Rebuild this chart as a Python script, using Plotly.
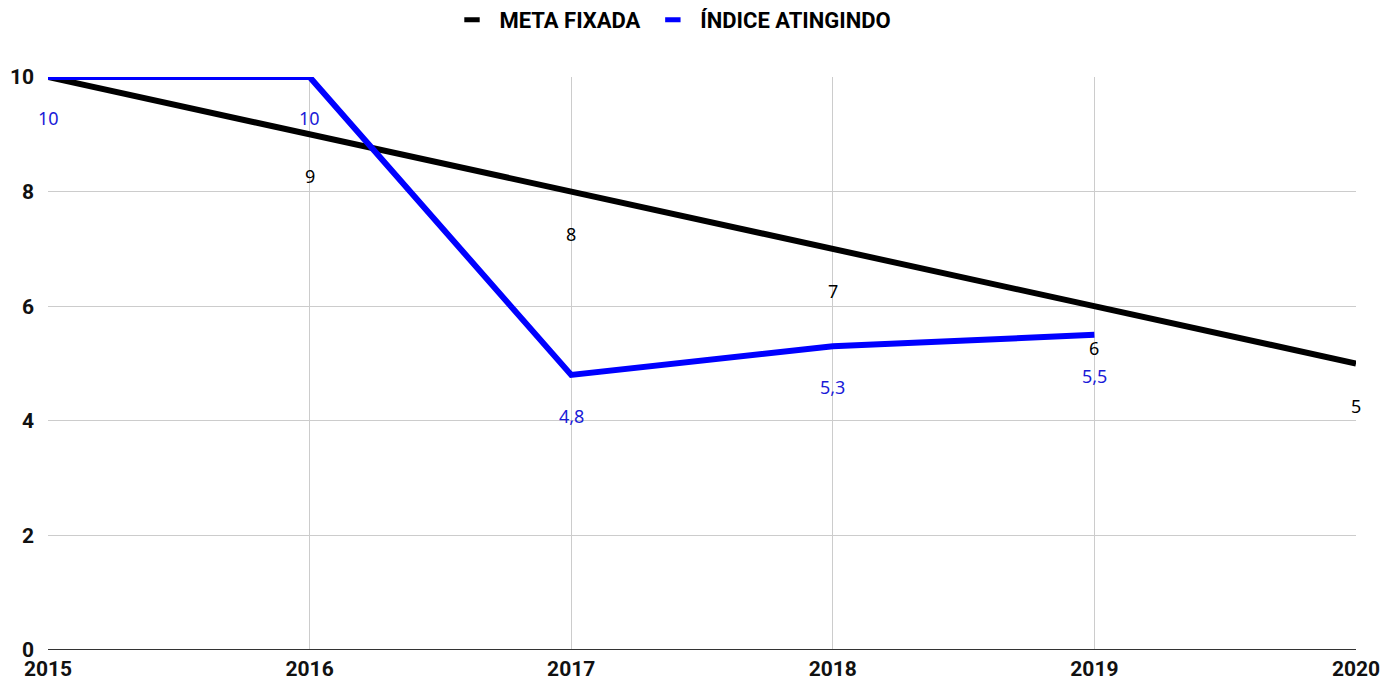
import plotly.graph_objects as go

years = [2015, 2016, 2017, 2018, 2019, 2020]
meta = [10, 9, 8, 7, 6, 5]
indice_years = [2015, 2016, 2017, 2018, 2019]
indice = [10, 10, 4.8, 5.3, 5.5]
meta_labels = ["", "9", "8", "7", "6", "5"]
indice_labels = ["10", "10", "4,8", "5,3", "5,5"]
y_ticks = [0, 2, 4, 6, 8, 10]

BLACK = "#000000"
BLUE = "#0000ff"
LABEL_BLUE = "#1a1ad8"

fig = go.Figure()
fig.add_trace(go.Scatter(x=years, y=meta, mode="lines", line=dict(color=BLACK, width=6),
                         showlegend=False, hoverinfo="skip"))
fig.add_trace(go.Scatter(x=indice_years, y=indice, mode="lines", line=dict(color=BLUE, width=6),
                         showlegend=False, hoverinfo="skip"))
# legend entries
fig.add_trace(go.Scatter(x=[None], y=[None], mode="markers", name="\u2004META FIXADA\u2004",
                         marker=dict(symbol="line-ew", size=11, line=dict(color=BLACK, width=6))))
fig.add_trace(go.Scatter(x=[None], y=[None], mode="markers", name="\u2004ÍNDICE ATINGINDO",
                         marker=dict(symbol="line-ew", size=11, line=dict(color=BLUE, width=6))))

for x, y, t in zip(years, meta, meta_labels):
    if t:
        fig.add_annotation(x=x, y=y, text=t, showarrow=False, yshift=-42,
                           font=dict(family="Noto Sans", size=18, color=BLACK))
for x, y, t in zip(indice_years, indice, indice_labels):
    fig.add_annotation(x=x, y=y, text=t, showarrow=False, yshift=-41,
                       font=dict(family="Noto Sans", size=18, color=LABEL_BLUE))

fig.update_layout(
    width=1382, height=685,
    margin=dict(l=48, r=26, t=77, b=35),
    plot_bgcolor="white", paper_bgcolor="white",
    font=dict(family="Roboto", color="#000000"),
    legend=dict(orientation="h", x=0.4877, xref="container", xanchor="center",
                y=0.971, yref="container", yanchor="middle",
                font=dict(family="Roboto", size=22, weight="bold"), itemwidth=30,
                tracegroupgap=0),
    xaxis=dict(range=[2015, 2020], tickvals=years, ticktext=[str(v) for v in years],
               showgrid=True, gridcolor="#cccccc", gridwidth=1, zeroline=False,
               showline=False, ticks="", ticklabelstandoff=4, automargin=False,
               tickfont=dict(family="Roboto", size=21, weight="bold", color="#111111")),
    yaxis=dict(range=[0, 10], tickvals=y_ticks, showgrid=True, gridcolor="#cccccc", gridwidth=1,
               zeroline=False, showline=False, ticks="", ticklabelstandoff=13, automargin=False,
               tickfont=dict(family="Roboto", size=21, weight="bold", color="#111111")),
)
fig.add_shape(type="line", xref="paper", yref="y", x0=0, x1=1, y0=0, y1=0,
              line=dict(color="#333333", width=2))
fig.write_html("out.html", config={"displayModeBar": False},
               post_script="document.body.style.margin='0';")
